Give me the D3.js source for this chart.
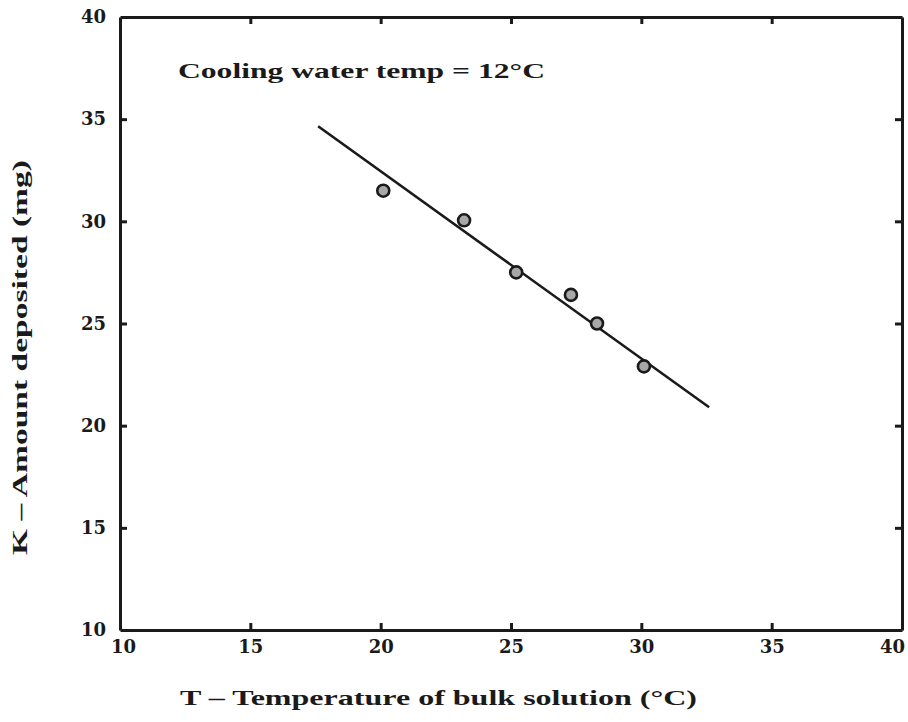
<!DOCTYPE html>
<html>
<head>
<meta charset="utf-8">
<script src="https://cdn.jsdelivr.net/npm/d3@7"></script>
<style>
  html, body { margin: 0; padding: 0; background: #fff; }
  svg { display: block; }
  text { font-family: "Liberation Serif", "DejaVu Serif", serif; font-weight: bold; fill: #1a1a1a; }
</style>
</head>
<body>
<svg id="chart" width="908" height="722"></svg>
<script>
// Measured deposits versus bulk solution temperature
const temperature = [20.1, 23.2, 25.2, 27.3, 28.3, 30.1];
const deposited   = [31.5, 30.05, 27.5, 26.4, 25.0, 22.9];

// Fitted straight line (end points)
const fitT = [17.6, 32.6];
const fitK = [34.65, 20.9];

const xTicks = [10, 15, 20, 25, 30, 35, 40];
const yTicks = [10, 15, 20, 25, 30, 35, 40];

const annotation = "Cooling water temp = 12°C";
const xTitle = "T \u2013 Temperature of bulk solution (°C)";
const yTitle = "K \u2013 Amount deposited (mg)";

const svg = d3.select("#chart");
const ink = "#1a1a1a";

const x = d3.scaleLinear().domain([10, 40]).range([120, 902]);
const y = d3.scaleLinear().domain([10, 40]).range([630, 17]);

// Frame with inward ticks on all four sides
const inner = [15, 20, 25, 30, 35];
const axB = d3.axisBottom(x).tickValues(xTicks).tickSizeInner(-7).tickSizeOuter(0).tickPadding(10);
const axL = d3.axisLeft(y).tickValues(yTicks).tickSizeInner(-7).tickSizeOuter(0).tickPadding(14);
const axT = d3.axisTop(x).tickValues(inner).tickSizeInner(-7).tickSizeOuter(0).tickFormat("");
const axR = d3.axisRight(y).tickValues(inner).tickSizeInner(-7).tickSizeOuter(0).tickFormat("");

function style(g) {
  g.attr("font-size", 18);
  g.select(".domain").attr("stroke", ink).attr("stroke-width", 3);
  g.selectAll(".tick line").attr("stroke", ink).attr("stroke-width", 3);
  g.selectAll(".tick text").attr("fill", ink)
    .style("font-size", "18px")
    .style("font-family", '"DejaVu Serif", "Liberation Serif", serif').style("font-weight", "bold");
}

const gB = svg.append("g").attr("transform", `translate(0,${y(10)})`).call(axB).call(style);
gB.selectAll(".tick line").filter(d => d === 10 || d === 40).remove();
gB.selectAll(".tick text").filter(d => d === 40).attr("dx", -10);
gB.selectAll(".tick text").filter(d => d === 10).attr("dx", 3);

svg.append("g").attr("transform", `translate(${x(10)},0)`).call(axL).call(style)
  .selectAll(".tick line").filter(d => d === 10 || d === 40).remove();
svg.append("g").attr("transform", `translate(0,${y(40)})`).call(axT).call(style);
svg.append("g").attr("transform", `translate(${x(40)},0)`).call(axR).call(style);

// Fitted line
const line = d3.line().x(d => x(d[0])).y(d => y(d[1]));
svg.append("path")
  .datum(fitT.map((t, i) => [t, fitK[i]]))
  .attr("d", line)
  .attr("fill", "none")
  .attr("stroke", ink)
  .attr("stroke-width", 2.6);

// Data points as open rings
svg.append("g").selectAll("circle")
  .data(temperature.map((t, i) => [t, deposited[i]]))
  .join("circle")
  .attr("cx", d => x(d[0]))
  .attr("cy", d => y(d[1]))
  .attr("r", 6)
  .attr("fill", "#a8a8a8")
  .attr("stroke", ink)
  .attr("stroke-width", 2.6);

// Annotation
svg.append("text")
  .attr("x", 178).attr("y", 78)
  .attr("font-size", 21)
  .attr("textLength", 367).attr("lengthAdjust", "spacingAndGlyphs")
  .text(annotation);

// Axis titles
svg.append("text")
  .attr("x", 180).attr("y", 705)
  .attr("font-size", 22)
  .attr("textLength", 517).attr("lengthAdjust", "spacingAndGlyphs")
  .text(xTitle);

svg.append("text")
  .attr("transform", "translate(27,555) rotate(-90)")
  .attr("x", 0).attr("y", 0)
  .attr("font-size", 21)
  .attr("textLength", 395).attr("lengthAdjust", "spacingAndGlyphs")
  .text(yTitle);
</script>
</body>
</html>
